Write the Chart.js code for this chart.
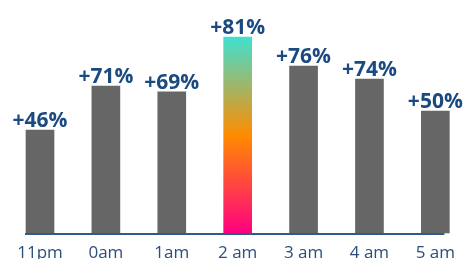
<!DOCTYPE html>
<html>
<head>
<meta charset="utf-8">
<script src="https://cdn.jsdelivr.net/npm/chart.js@4/dist/chart.umd.min.js"></script>
<style>
  html, body { margin: 0; padding: 0; background: #fff; }
  #wrap { width: 465px; height: 259px; position: relative; }
</style>
</head>
<body>
<div id="wrap"><canvas id="chart"></canvas></div>
<script>
// --- データ ---
const hours = ['11pm', '0am', '1am', '2 am', '3 am', '4 am', '5 am'];
// 棒の高さ
const barValues = [42.5, 60.7, 58.3, 81, 69, 63.6, 50.4];
// 棒の上の表示テキスト
const valueLabels = ['+46%', '+71%', '+69%', '+81%', '+76%', '+74%', '+50%'];
const highlightIndex = 3;

const textBlue = '#1b4a80';

// 2am の棒だけグラデーション
function barColor(ctx) {
    if (ctx.dataIndex !== highlightIndex) return '#666666';
    const chart = ctx.chart;
    const area = chart.chartArea;
    if (!area) return '#ff8c00';
    const y = chart.scales.y;
    const g = chart.ctx.createLinearGradient(0, y.getPixelForValue(barValues[highlightIndex]), 0, y.getPixelForValue(0));
    g.addColorStop(0, '#40e0d0');
    g.addColorStop(0.5, '#ff8c00');
    g.addColorStop(1, '#ff0080');
    return g;
}

// 数値ラベルと下の線
const extras = {
    id: 'extras',
    afterDatasetsDraw(chart) {
        const ctx = chart.ctx;
        const area = chart.chartArea;
        ctx.save();
        ctx.strokeStyle = '#2e5c8a';
        ctx.lineWidth = 2;
        ctx.beginPath();
        ctx.moveTo(area.left - 15, area.bottom + 1);
        ctx.lineTo(area.right + 9, area.bottom + 1);
        ctx.stroke();

        ctx.fillStyle = textBlue;
        ctx.font = 'bold 21px "Open Sans"';
        ctx.textAlign = 'center';
        ctx.textBaseline = 'alphabetic';
        chart.getDatasetMeta(0).data.forEach((bar, i) => {
            ctx.fillText(valueLabels[i], bar.x, bar.y - 3);
        });
        ctx.restore();
    }
};

new Chart(document.getElementById('chart'), {
    type: 'bar',
    data: {
        labels: hours,
        datasets: [{
            data: barValues,
            backgroundColor: barColor,
            barThickness: 28,
            borderWidth: 0,
            clip: false
        }]
    },
    options: {
        responsive: true,
        maintainAspectRatio: false,
        animation: false,
        layout: { padding: { top: 37, left: 40, right: 27, bottom: 0 } },
        plugins: { legend: { display: false }, tooltip: { enabled: false } },
        scales: {
            x: {
                offset: false,
                grid: { display: false, drawTicks: false },
                border: { display: false },
                afterFit(scale) { scale.height = 26; },
                ticks: {
                    color: '#2b4e7a',
                    font: { family: '"Open Sans"', size: 17 },
                    padding: 10,
                    maxRotation: 0,
                    autoSkip: false
                }
            },
            y: {
                display: false,
                min: 0,
                max: 81
            }
        }
    },
    plugins: [extras]
});
</script>
</body>
</html>
